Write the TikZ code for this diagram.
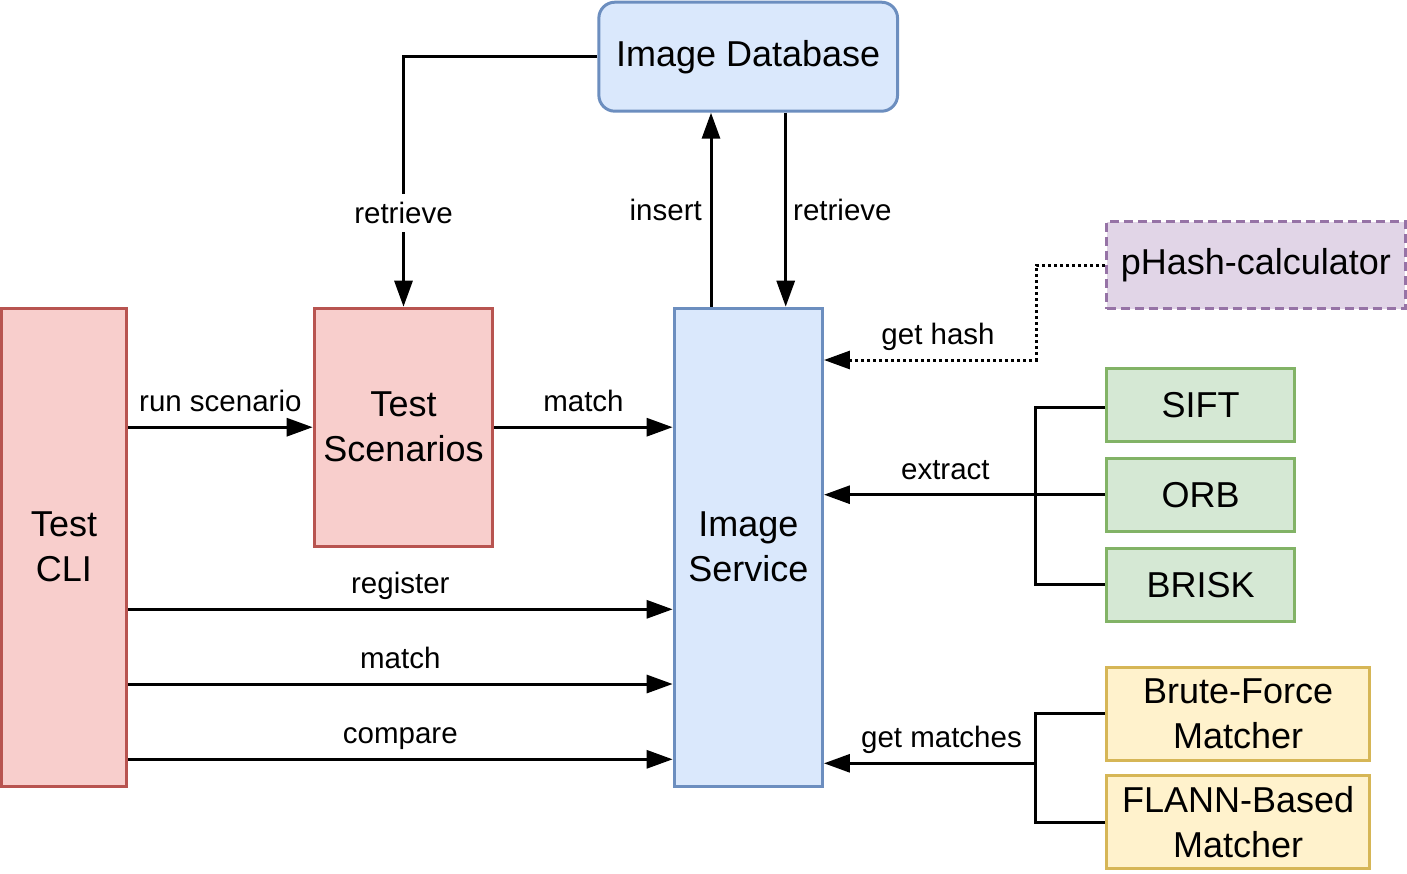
\documentclass[tikz,border=0pt]{standalone}
\usepackage{fontspec}
\setmainfont{Liberation Sans}
\usetikzlibrary{arrows.meta,calc}
\definecolor{redF}{HTML}{F8CECC}\definecolor{redS}{HTML}{B85450}
\definecolor{bluF}{HTML}{DAE8FC}\definecolor{bluS}{HTML}{6C8EBF}
\definecolor{purF}{HTML}{E1D5E7}\definecolor{purS}{HTML}{9673A6}
\definecolor{grnF}{HTML}{D5E8D4}\definecolor{grnS}{HTML}{82B366}
\definecolor{yelF}{HTML}{FFF2CC}\definecolor{yelS}{HTML}{D6B656}
\begin{document}
\begin{tikzpicture}[x=1pt,y=-1pt,
  box/.style={rectangle, line width=3pt, inner sep=0pt, align=center,
    font=\fontsize{36}{45}\selectfont},
  redbox/.style={box, draw=redS, fill=redF},
  blubox/.style={box, draw=bluS, fill=bluF},
  purbox/.style={box, draw=purS, fill=purF, dash pattern=on 9pt off 5pt},
  grnbox/.style={box, draw=grnS, fill=grnF},
  yelbox/.style={box, draw=yelS, fill=yelF},
  lbl/.style={font=\fontsize{29.5}{35}\selectfont, inner sep=0pt},
  abv/.style={lbl, anchor=base, yshift=15.5pt},
  conn/.style={line width=3pt},
  arr/.style={line width=3pt, -{Triangle[length=26pt,width=18pt]}},
  dotl/.style={dash pattern=on 3pt off 3pt}]
\useasboundingbox (0,0) rectangle (1407,873);
% nodes
\node[redbox, minimum width=125pt, minimum height=478pt] (cli) at (64,547.2) {Test\\CLI};
\node[redbox, minimum width=178.6pt, minimum height=238pt] (scen) at (403.5,427.2) {Test\\Scenarios};
\node[blubox, rounded corners=16pt, minimum width=298.7pt, minimum height=109pt] (db) at (748.2,56.7) {Image Database};
\node[blubox, minimum width=148.3pt, minimum height=478pt] (svc) at (748.3,547.2) {Image\\Service};
\node[purbox, minimum width=298.6pt, minimum height=87pt] (phash) at (1255.8,265) {pHash-calculator};
\node[grnbox, minimum width=188pt, minimum height=73pt] (sift) at (1200.5,404.7) {SIFT};
\node[grnbox, minimum width=188pt, minimum height=73pt] (orb) at (1200.5,494.7) {ORB};
\node[grnbox, minimum width=188pt, minimum height=73pt] (brisk) at (1200.5,584.7) {BRISK};
\node[yelbox, minimum width=263.3pt, minimum height=92.7pt] (bf) at (1238.2,713.8) {Brute-Force\\Matcher};
\node[yelbox, minimum width=263.3pt, minimum height=93pt] (flann) at (1238.2,822) {FLANN-Based\\Matcher};
% helper coordinates
\coordinate (insx) at (711,0);
\coordinate (retx) at (785.7,0);
\coordinate (hb) at (1036.4,360);
\coordinate (ex) at (1035.7,407.3);
\coordinate (gm) at (1035.7,763.3);
\coordinate (r1) at (0,609.3);
\coordinate (r2) at (0,684);
\coordinate (r3) at (0,759.3);
% connectors
\draw[arr] (cli.east |- scen.west) -- node[abv]{run scenario} (scen.west);
\draw[arr] (scen.east) -- node[abv]{match} (svc.west |- scen.east);
\draw[arr] (db.west) -| node[lbl, pos=0.8125, fill=white, inner xsep=2pt, inner ysep=8pt]{retrieve} (scen.north);
\draw[arr] (svc.north -| insx) -- node[lbl, left=7.7pt]{insert} (db.south -| insx);
\draw[arr] (db.south -| retx) -- node[lbl, right=6pt]{retrieve} (svc.north -| retx);
\draw[arr, dotl] (phash.west) -| (hb) -- node[abv, pos=0.463, solid]{get hash} (svc.east |- hb);
\draw[conn] (sift.west |- ex) -- (ex) |- (brisk.west);
\draw[arr] (orb.west) -- node[abv, pos=0.568]{extract} (svc.east |- orb.west);
\draw[conn] (bf.west) -| (gm) |- (flann.west);
\draw[arr] (gm) -- node[abv, pos=0.445]{get matches} (svc.east |- gm);
\draw[arr] (cli.east |- r1) -- node[abv]{register} (svc.west |- r1);
\draw[arr] (cli.east |- r2) -- node[abv]{match} (svc.west |- r2);
\draw[arr] (cli.east |- r3) -- node[abv]{compare} (svc.west |- r3);
\end{tikzpicture}
\end{document}
